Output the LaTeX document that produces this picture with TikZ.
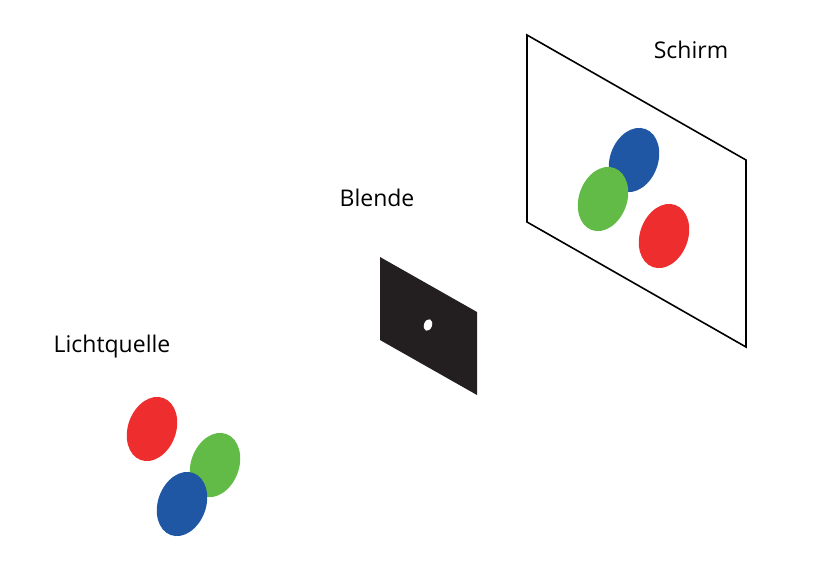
\documentclass[tikz,border=0pt]{standalone}
\usepackage{fontspec}
\setmainfont{Open Sans}
\definecolor{lred}{HTML}{EE2E2E}
\definecolor{lgreen}{HTML}{62BB46}
\definecolor{lblue}{HTML}{1F57A5}
\definecolor{lblack}{HTML}{231F20}
\begin{document}
\begin{tikzpicture}[x=1pt, y=-1pt, every node/.style={font=\fontsize{23}{26}\selectfont},
    spot/.style={x radius=24, y radius=33}]
    \useasboundingbox (0,0) rectangle (836,584);
    % Schirm
    \draw[line width=1.6pt] (527,35) -- (746,160) -- (746,347) -- (527,222) -- cycle;
    \node (schirm_lbl) at (691,50) {Schirm};
    \fill[lblue, rotate around={-20:(634,160)}] (634,160) ellipse [spot];
    \fill[lgreen, rotate around={-20:(603,199)}] (603,199) ellipse [spot];
    \fill[lred, rotate around={-20:(664,236)}] (664,236) ellipse [spot];
    % Blende
    \fill[lblack] (380,257) -- (477,312) -- (477,395) -- (380,340) -- cycle;
    \fill[white, rotate around={-20:(428,325)}] (428,325) ellipse [x radius=4, y radius=6];
    \node (blende_lbl) at (377,198) {Blende};
    % Lichtquelle
    \node (quelle_lbl) at (112,347) {Lichtquelle};
    \fill[lred, rotate around={-20:(152,429)}] (152,429) ellipse [spot];
    \fill[lgreen, rotate around={-20:(215,465)}] (215,465) ellipse [spot];
    \fill[lblue, rotate around={-20:(182,504)}] (182,504) ellipse [spot];
\end{tikzpicture}
\end{document}
